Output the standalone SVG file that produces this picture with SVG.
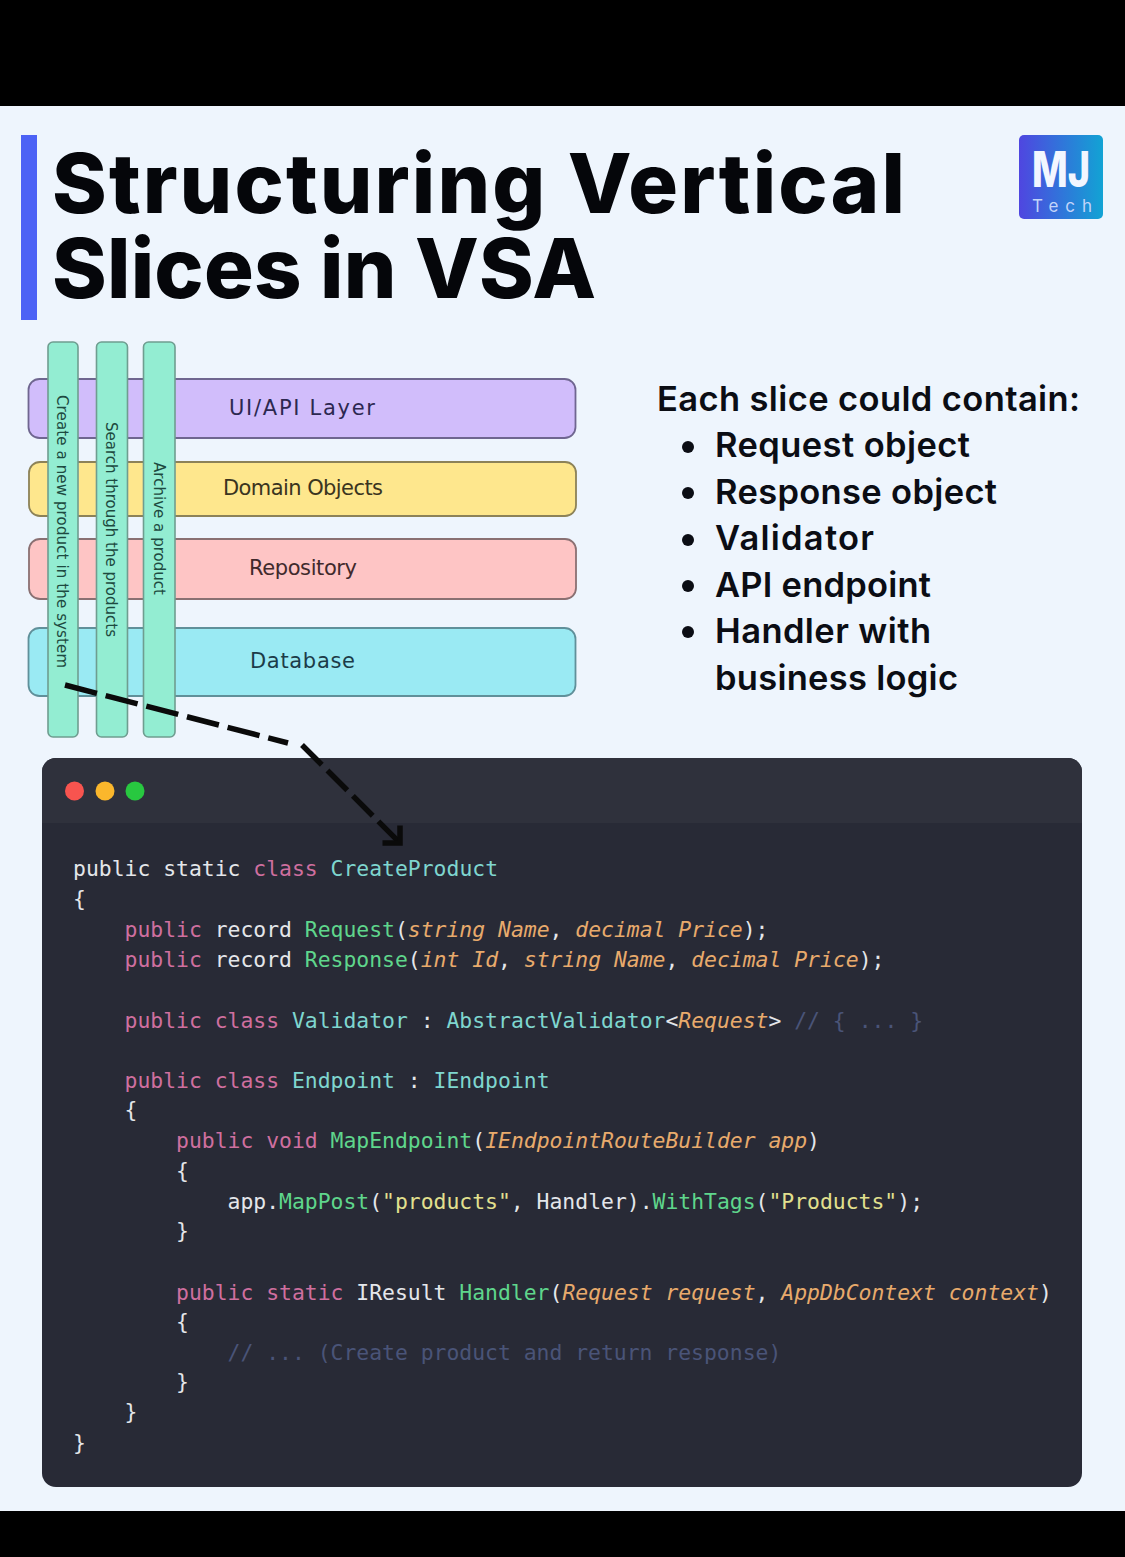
<svg xmlns="http://www.w3.org/2000/svg" width="1125" height="1557" viewBox="0 0 1125 1557">
<defs>
<linearGradient id="lg" x1="0" y1="0" x2="1" y2="0"><stop offset="0" stop-color="#4f46e0"/><stop offset="1" stop-color="#12a3d4"/></linearGradient>
<marker id="ah" markerWidth="22" markerHeight="22" refX="13" refY="8" orient="auto" markerUnits="userSpaceOnUse" viewBox="0 0 16 16" overflow="visible"><path d="M4 -1 L13 8 L4 17" fill="none" stroke="#0a0a0a" stroke-width="4"/></marker>
</defs>
<style>
.title{font:800 83px Inter,"Liberation Sans",sans-serif;fill:#05060a}
.list{font:600 34.500px Inter,"Liberation Sans",sans-serif;fill:#0b0d14}
.layer{stroke-width:1.8}
.slice{fill:#93edd2;stroke:#6f9d90;stroke-width:1.6}
.hand{font:21px "DejaVu Sans",sans-serif}
.vhand{font:15px "DejaVu Sans",sans-serif;fill:#1d4a40}
.code{font:21.4px "DejaVu Sans Mono","Liberation Mono",monospace;fill:#e4e6ea;white-space:pre}
.k{fill:#cf6f9f}.t{fill:#7fd6cf}.f{fill:#5fd68c}.p{fill:#e8aa6c;font-style:italic}.s{fill:#e2e08e}.c{fill:#4a5478}
</style>
<rect width="1125" height="1557" fill="#eef5fd"/>
<rect width="1125" height="106" fill="#000"/>
<rect y="1511" width="1125" height="46" fill="#000"/>
<g id="heading">
<rect x="21" y="135" width="16" height="185" fill="#4c62f5"/>
<text class="title" x="52" y="213" textLength="853">Structuring Vertical</text>
<text class="title" x="52" y="298" textLength="544">Slices in VSA</text>
</g>
<g id="logo">
<rect x="1019" y="135" width="84" height="84" rx="5" fill="url(#lg)"/>
<text x="1032" y="187" font-family="Inter,sans-serif" font-weight="800" font-size="50" fill="#f2f6ff" textLength="58" lengthAdjust="spacingAndGlyphs">MJ</text>
<text x="1032" y="212" font-family="Inter,sans-serif" font-size="17" fill="#c2d4fa" textLength="60">Tech</text>
</g>
<g id="layer-ui"><rect class="layer" x="28.500" y="379" width="547" height="59" rx="11" fill="#d1bdfb" stroke="#6f6690"/><text class="hand" x="229" y="415" fill="#2c2850" textLength="146">UI/API Layer</text></g>
<g id="layer-domain"><rect class="layer" x="29" y="462" width="547" height="54" rx="11" fill="#fee78d" stroke="#8c8258"/><text class="hand" x="223" y="495" fill="#3a3420" textLength="160">Domain Objects</text></g>
<g id="layer-repo"><rect class="layer" x="29" y="539" width="547" height="60" rx="11" fill="#fec5c5" stroke="#8a7072"/><text class="hand" x="249" y="575" fill="#402a2c" textLength="108">Repository</text></g>
<g id="layer-db"><rect class="layer" x="28.500" y="628" width="547" height="68" rx="11" fill="#9aeaf3" stroke="#60909a"/><text class="hand" x="250" y="668" fill="#1c3c48" textLength="105">Database</text></g>
<g id="slice-create"><rect class="slice" x="48" y="342" width="30" height="395" rx="5"/><text class="vhand" transform="translate(57 395) rotate(90)" textLength="273">Create a new product in the system</text></g>
<g id="slice-search"><rect class="slice" x="96.500" y="342" width="31" height="395" rx="5"/><text class="vhand" transform="translate(106 422) rotate(90)" textLength="215">Search through the products</text></g>
<g id="slice-archive"><rect class="slice" x="143.500" y="342" width="31.500" height="395" rx="5"/><text class="vhand" transform="translate(154 462) rotate(90)" textLength="133">Archive a product</text></g>
<g id="list">
<text class="list" x="657" y="411" textLength="423">Each slice could contain:</text>
<g fill="#0b0d14"><circle cx="688" cy="447" r="6"/><circle cx="688" cy="493" r="6"/><circle cx="688" cy="540" r="6"/><circle cx="688" cy="586" r="6"/><circle cx="688" cy="632" r="6"/></g>
<text class="list" x="715" y="457" textLength="255">Request object</text>
<text class="list" x="715" y="504" textLength="282">Response object</text>
<text class="list" x="715" y="550" textLength="159">Validator</text>
<text class="list" x="715" y="597" textLength="216">API endpoint</text>
<text class="list" x="715" y="643" textLength="216">Handler with</text>
<text class="list" x="715" y="690" textLength="243">business logic</text>
</g>
<g id="code-window">
<rect x="42" y="758" width="1040" height="729" rx="14" fill="#282a36"/>
<path d="M42 823V772a14 14 0 0 1 14-14H1068a14 14 0 0 1 14 14V823Z" fill="#2f313c"/>
<circle cx="74.500" cy="791" r="9.500" fill="#f8544f"/><circle cx="105" cy="791" r="9.500" fill="#fbb72c"/><circle cx="135" cy="791" r="9.500" fill="#28c840"/>
<text class="code" x="73" y="876">public static <tspan class="k">class</tspan> <tspan class="t">CreateProduct</tspan></text>
<text class="code" x="73" y="905.500">{</text>
<text class="code" x="124.500" y="936.500"><tspan class="k">public</tspan> record <tspan class="f">Request</tspan>(<tspan class="p">string Name</tspan>, <tspan class="p">decimal Price</tspan>);</text>
<text class="code" x="124.500" y="966.750"><tspan class="k">public</tspan> record <tspan class="f">Response</tspan>(<tspan class="p">int Id</tspan>, <tspan class="p">string Name</tspan>, <tspan class="p">decimal Price</tspan>);</text>
<text class="code" x="124.500" y="1027.500"><tspan class="k">public class</tspan> <tspan class="t">Validator</tspan> : <tspan class="t">AbstractValidator</tspan>&lt;<tspan class="p">Request</tspan>&gt; <tspan class="c">// { ... }</tspan></text>
<text class="code" x="124.500" y="1087.750"><tspan class="k">public class</tspan> <tspan class="t">Endpoint</tspan> : <tspan class="t">IEndpoint</tspan></text>
<text class="code" x="124.500" y="1117">{</text>
<text class="code" x="176" y="1148.250"><tspan class="k">public void</tspan> <tspan class="f">MapEndpoint</tspan>(<tspan class="p">IEndpointRouteBuilder app</tspan>)</text>
<text class="code" x="176" y="1177.500">{</text>
<text class="code" x="227.500" y="1208.750">app.<tspan class="f">MapPost</tspan>(<tspan class="s">"products"</tspan>, Handler).<tspan class="f">WithTags</tspan>(<tspan class="s">"Products"</tspan>);</text>
<text class="code" x="176" y="1238">}</text>
<text class="code" x="176" y="1299.500"><tspan class="k">public static</tspan> IResult <tspan class="f">Handler</tspan>(<tspan class="p">Request request</tspan>, <tspan class="p">AppDbContext context</tspan>)</text>
<text class="code" x="176" y="1328.500">{</text>
<text class="code c" x="227.500" y="1360">// ... (Create product and return response)</text>
<text class="code" x="176" y="1389">}</text>
<text class="code" x="124.500" y="1419">}</text>
<text class="code" x="73" y="1449.500">}</text>
</g>
<g id="connectors" fill="none" stroke="#0a0a0a" stroke-width="5.500">
<path d="M65 685 L288 743" stroke-dasharray="33 9"/>
<path d="M302 745 L400 843" stroke-dasharray="28 8" marker-end="url(#ah)"/>
</g>
</svg>
